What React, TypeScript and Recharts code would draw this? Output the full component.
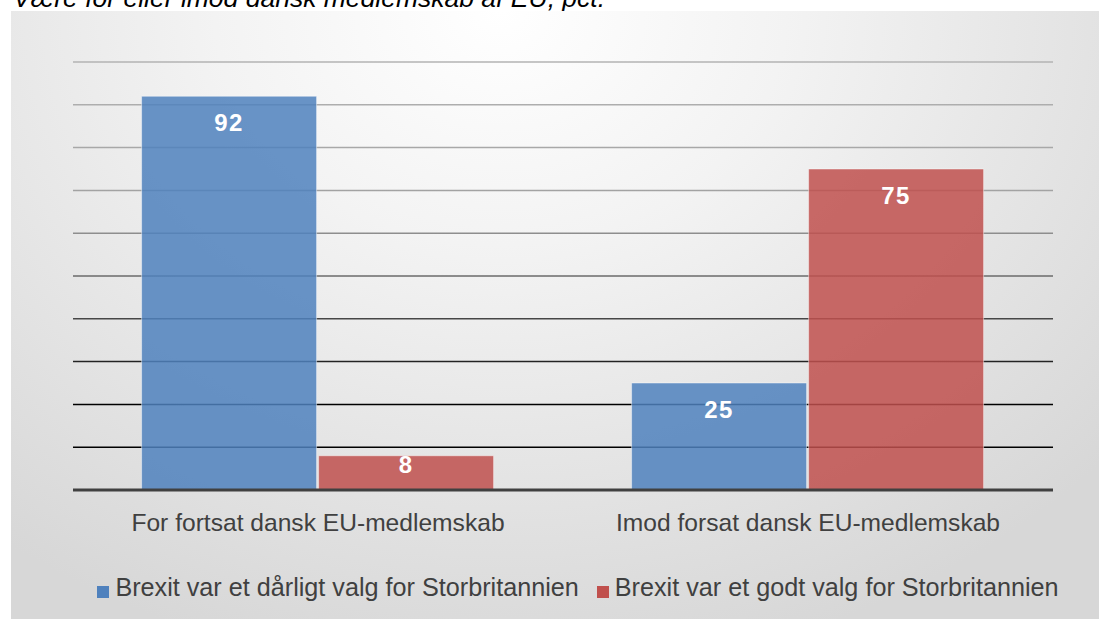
import React from "react"
import { BarChart, Bar, XAxis, YAxis, CartesianGrid, Legend, LabelList } from "recharts"

const categories = ["For fortsat dansk EU-medlemskab", "Imod forsat dansk EU-medlemskab"]
const badChoice = [92, 25]
const goodChoice = [8, 75]
const seriesNames = [
  "Brexit var et dårligt valg for Storbritannien",
  "Brexit var et godt valg for Storbritannien",
]
const yTicks = [0, 10, 20, 30, 40, 50, 60, 70, 80, 90, 100]

const data = categories.map((name, i) => ({ name, bad: badChoice[i], good: goodChoice[i] }))

const FONT = "'Liberation Sans', Arial, sans-serif"

// value label near the top of the bar, pulled up for short bars
const BarValueLabel = (props: any) => {
  const { x, y, width, height, value } = props
  const h = Number(height)
  const cy = Number(y) + Math.max(0, Math.min(26, h - 26))
  return (
    <text
      x={Number(x) + Number(width) / 2}
      y={cy}
      textAnchor="middle"
      dominantBaseline="central"
      fill="#ffffff"
      fontSize={24}
      fontWeight="bold"
      fontFamily={FONT}
      letterSpacing={1.5}
    >
      {value}
    </text>
  )
}

export default function App() {
  return (
    <div style={{ position: "absolute", left: 0, top: 0, width: 1099, height: 619, overflow: "hidden", background: "#fff" }}>
      <div
        style={{
          position: "absolute",
          left: 13,
          top: -15,
          fontFamily: FONT,
          fontStyle: "italic",
          fontSize: 26.5,
          lineHeight: "26.5px",
          color: "#000",
          whiteSpace: "nowrap",
        }}
      >
        Være for eller imod dansk medlemskab af EU, pct.
      </div>
      <div
        style={{
          position: "absolute",
          left: 11,
          top: 11,
          width: 1088,
          height: 608,
          background:
            "radial-gradient(ellipse 75% 110% at 45% 0%, #ffffff 0%, #f3f3f3 35%, #d7d7d7 100%)",
        }}
      >
        <BarChart
          width={1088}
          height={608}
          data={data}
          margin={{ top: 51, right: 46, left: 62, bottom: 17 }}
          barCategoryGap="14%"
          barGap={2}
          style={{ fontFamily: FONT }}
        >
          <defs>
            <linearGradient id="gridGrad" gradientUnits="userSpaceOnUse" x1={0} y1={51} x2={0} y2={478}>
              <stop offset="0%" stopColor="#b3b3b3" />
              <stop offset="35%" stopColor="#a0a0a0" />
              <stop offset="80%" stopColor="#000000" />
              <stop offset="100%" stopColor="#000000" />
            </linearGradient>
          </defs>
          <CartesianGrid vertical={false} stroke="url(#gridGrad)" strokeWidth={1.5} />
          <YAxis hide domain={[0, 100]} ticks={yTicks} />
          <XAxis
            dataKey="name"
            tickLine={false}
            axisLine={{ stroke: "#404040", strokeWidth: 3 }}
            tick={{ fill: "#404040", fontSize: 24.6, fontFamily: FONT }}
            tickMargin={18}
            height={83}
          />
          <Legend
            verticalAlign="bottom"
            iconType="square"
            iconSize={12}
            wrapperStyle={{ marginLeft: 24 }}
            formatter={(value: string) => (
              <span
                style={{
                  color: "#404040",
                  fontSize: 25.2,
                  fontFamily: FONT,
                  marginLeft: 2,
                  paddingRight: 8,
                }}
              >
                {value}
              </span>
            )}
          />
          <Bar
            dataKey="bad"
            name={seriesNames[0]}
            fill="#4F81BD"
            fillOpacity={0.85}
            stroke="#ffffff"
            strokeOpacity={0.45}
            isAnimationActive={false}
          >
            <LabelList dataKey="bad" content={BarValueLabel} />
          </Bar>
          <Bar
            dataKey="good"
            name={seriesNames[1]}
            fill="#C0504D"
            fillOpacity={0.85}
            stroke="#ffffff"
            strokeOpacity={0.45}
            isAnimationActive={false}
          >
            <LabelList dataKey="good" content={BarValueLabel} />
          </Bar>
        </BarChart>
      </div>
    </div>
  )
}
